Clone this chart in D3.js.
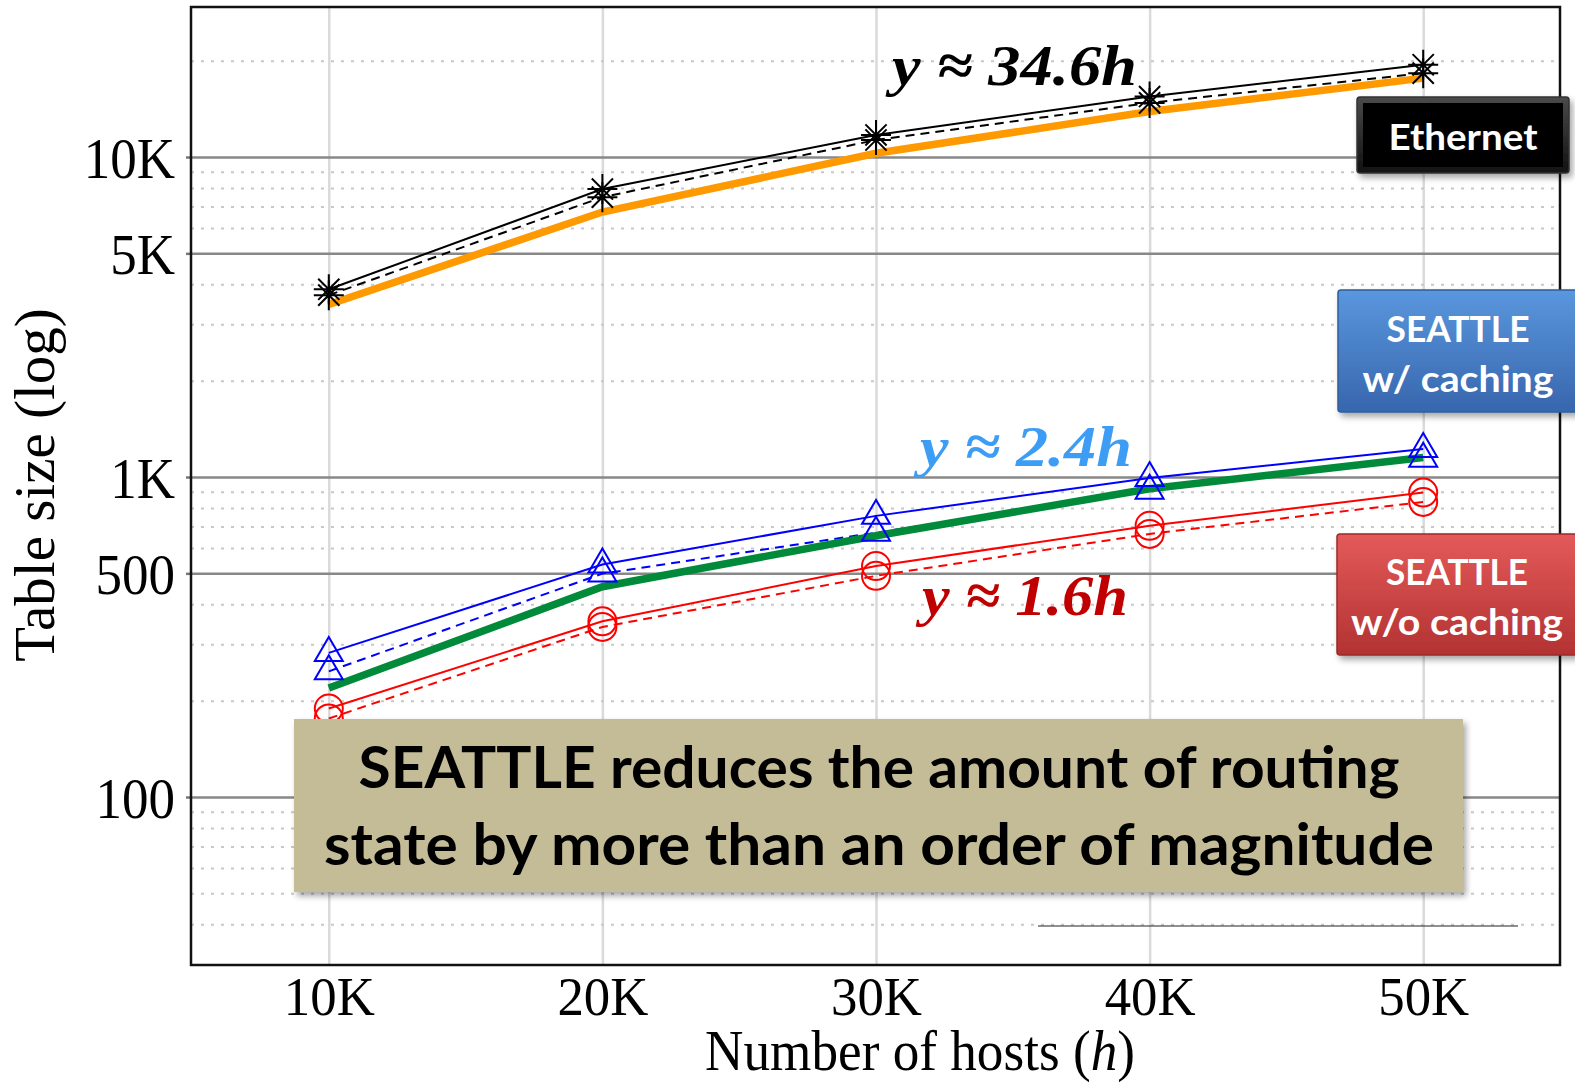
<!DOCTYPE html>
<html>
<head>
<meta charset="utf-8">
<script src="https://cdn.jsdelivr.net/npm/d3@7"></script>
<style>
  body { margin: 0; background: #fff; }
  svg { display: block; }
</style>
</head>
<body>
<div class="chart"></div>
<script>
const width = 1575,
    height = 1083;

// data
const hosts = [10000, 20000, 30000, 40000, 50000];
const xTickLabels = ["10K", "20K", "30K", "40K", "50K"];
const yMajorTicks = [100, 500, 1000, 5000, 10000];
const yTickLabels = ["100", "500", "1K", "5K", "10K"];

const ethernetSolid   = [3860, 7940, 11720, 15450, 19420];
const ethernetDashed  = [3700, 7490, 11300, 14760, 18280];
const ethernetFit     = [3460, 6730, 10270, 13870, 17640];
const cachingSolid    = [282, 533, 756, 992, 1224];
const cachingDashed   = [247, 499, 670, 906, 1141];
const cachingFit      = [219, 454, 655, 919, 1151];
const noCachingSolid  = [189, 354, 527, 704, 894];
const noCachingDashed = [176, 340, 491, 664, 836];

const plot = {left: 191, right: 1560, top: 7, bottom: 965};

const x = d3.scaleLinear().domain([5000, 55000]).range([192, 1560]);
const y = d3.scaleLog().domain([100, 10000]).range([797, 157]);

const serif = "'Liberation Serif', 'Times New Roman', serif";
const sans = "Lato, 'Open Sans', sans-serif";

const svg = d3.select(".chart").append("svg")
    .attr("width", width)
    .attr("height", height);

const defs = svg.append("defs");
const shadow = defs.append("filter").attr("id", "shadow")
    .attr("x", "-10%").attr("y", "-10%").attr("width", "130%").attr("height", "140%");
shadow.append("feDropShadow")
    .attr("dx", 3).attr("dy", 4).attr("stdDeviation", 3)
    .attr("flood-color", "#000").attr("flood-opacity", 0.35);

function gradient(id, top, bottom) {
  const g = defs.append("linearGradient").attr("id", id)
      .attr("x1", 0).attr("y1", 0).attr("x2", 0).attr("y2", 1);
  g.append("stop").attr("offset", "0%").attr("stop-color", top);
  g.append("stop").attr("offset", "100%").attr("stop-color", bottom);
}
gradient("blueGrad", "#5a97de", "#3766ad");
gradient("redGrad", "#e45a5a", "#b33232");
gradient("blackGrad", "#4a4a4a", "#111");

function squeeze(sel, k) {
  sel.each(function() {
    const len = this.getComputedTextLength();
    d3.select(this).attr("textLength", len * k).attr("lengthAdjust", "spacingAndGlyphs");
  });
}
function fitTo(sel, w) {
  sel.attr("textLength", w).attr("lengthAdjust", "spacingAndGlyphs");
}

// vertical grid
const xGrid = svg.append("g")
    .attr("transform", `translate(0,${plot.bottom})`)
    .call(d3.axisBottom(x).tickValues(hosts).tickSize(-(plot.bottom - plot.top)).tickFormat(""));
xGrid.select(".domain").remove();
xGrid.selectAll("line").attr("stroke", "#dadada").attr("stroke-width", 2.5);

// minor horizontal grid (dotted)
const minorTicks = y.copy().domain([y.invert(plot.bottom), y.invert(plot.top)]).ticks()
    .filter(v => !yMajorTicks.includes(v) && y(v) > plot.top + 3 && y(v) < plot.bottom - 3);
const minorGrid = svg.append("g")
    .attr("transform", `translate(${plot.left},0)`)
    .call(d3.axisLeft(y).tickValues(minorTicks).tickSize(-(plot.right - plot.left)).tickFormat(""));
minorGrid.select(".domain").remove();
minorGrid.selectAll("line").attr("stroke", "#c8c8c8").attr("stroke-width", 2)
    .attr("stroke-dasharray", "3,7");

// major horizontal grid
const majorGrid = svg.append("g")
    .attr("transform", `translate(${plot.left},0)`)
    .call(d3.axisLeft(y).tickValues(yMajorTicks).tickSize(-(plot.right - plot.left)).tickFormat(""));
majorGrid.select(".domain").remove();
majorGrid.selectAll("line").attr("stroke", "#888").attr("stroke-width", 2.5);

// y tick labels
const yAxis = svg.append("g")
    .attr("transform", `translate(${plot.left},0)`)
    .call(d3.axisLeft(y).tickValues(yMajorTicks).tickFormat((d, i) => yTickLabels[i])
        .tickSize(5).tickPadding(11));
yAxis.select(".domain").remove();
yAxis.selectAll("line").attr("stroke", "#777").attr("stroke-width", 2.5);
yAxis.selectAll("text")
    .attr("font-family", serif).attr("font-size", 57).attr("fill", "#000")
    .attr("dy", "0.36em")
    .call(squeeze, 0.93);

// x tick labels
const xAxis = svg.append("g")
    .attr("transform", `translate(0,${plot.bottom})`)
    .call(d3.axisBottom(x).tickValues(hosts).tickFormat((d, i) => xTickLabels[i]).tickSize(0));
xAxis.select(".domain").remove();
xAxis.selectAll("text")
    .attr("font-family", serif).attr("font-size", 55).attr("fill", "#000")
    .attr("y", 50).attr("dy", null)
    .call(squeeze, 0.96);

// axis titles
const xTitle = svg.append("text")
    .attr("transform", "translate(920,1070) scale(0.95,1)")
    .attr("text-anchor", "middle")
    .attr("font-family", serif).attr("font-size", 56);
xTitle.append("tspan").text("Number of hosts (");
xTitle.append("tspan").attr("font-style", "italic").text("h");
xTitle.append("tspan").text(")");

svg.append("text")
    .attr("transform", "translate(54,485) rotate(-90)")
    .attr("text-anchor", "middle")
    .attr("font-family", serif).attr("font-size", 57)
    .text("Table size (log)");

// frame
svg.append("rect")
    .attr("x", plot.left).attr("y", plot.top)
    .attr("width", plot.right - plot.left).attr("height", plot.bottom - plot.top)
    .attr("fill", "none").attr("stroke", "#111").attr("stroke-width", 2.5);

// leftover rule under the callout
svg.append("line")
    .attr("x1", 1038).attr("x2", 1518).attr("y1", 926).attr("y2", 926)
    .attr("stroke", "#222").attr("stroke-width", 1.2);

// series
const line = d3.line()
    .x((d, i) => x(hosts[i]))
    .y(d => y(d));

const thinSeries = [
  {values: ethernetSolid,   color: "#000",    dash: null,  marker: "star"},
  {values: ethernetDashed,  color: "#000",    dash: "9,6", marker: "star"},
  {values: cachingSolid,    color: "#0000ff", dash: null,  marker: "triangle"},
  {values: cachingDashed,   color: "#0000ff", dash: "9,6", marker: "triangle"},
  {values: noCachingSolid,  color: "#ff0000", dash: null,  marker: "circle"},
  {values: noCachingDashed, color: "#ff0000", dash: "9,6", marker: "circle"}
];
const fitSeries = [
  {values: ethernetFit, color: "#ff9900"},
  {values: cachingFit,  color: "#008a3a"}
];

svg.append("g").selectAll("path")
    .data(thinSeries)
    .enter().append("path")
    .attr("d", d => line(d.values))
    .attr("fill", "none")
    .attr("stroke", d => d.color)
    .attr("stroke-width", 2)
    .attr("stroke-dasharray", d => d.dash);

svg.append("g").selectAll("path")
    .data(fitSeries)
    .enter().append("path")
    .attr("d", d => line(d.values))
    .attr("fill", "none")
    .attr("stroke", d => d.color)
    .attr("stroke-width", 7.5);

const r = 15, a = r * 0.707;
const shapes = {
  star: `M0,${-r}L0,${r}M${-r},0L${r},0M${-a},${-a}L${a},${a}M${-a},${a}L${a},${-a}`,
  triangle: "M0,-16L14,8L-14,8Z",
  circle: d3.arc()({innerRadius: 0, outerRadius: 14, startAngle: 0, endAngle: 2 * Math.PI})
};

const markerGroups = svg.append("g").selectAll("g")
    .data(thinSeries)
    .enter().append("g")
    .attr("stroke", d => d.color)
    .attr("stroke-width", d => d.marker === "star" ? 2 : 2)
    .attr("fill", "none");
markerGroups.selectAll("path")
    .data(d => d.values.map((v, i) => ({v, i, marker: d.marker})))
    .enter().append("path")
    .attr("transform", d => `translate(${x(hosts[d.i])},${y(d.v)})`)
    .attr("d", d => shapes[d.marker]);

// fit annotations
const fitLabels = [
  {text: "y \u2248 34.6h", x: 892, y: 85,  w: 245, color: "#000"},
  {text: "y \u2248 2.4h",  x: 920, y: 466, w: 212, color: "#3d9df5"},
  {text: "y \u2248 1.6h",  x: 922, y: 615, w: 206, color: "#c00000"}
];
svg.append("g").selectAll("text")
    .data(fitLabels)
    .enter().append("text")
    .attr("x", d => d.x).attr("y", d => d.y)
    .attr("font-family", serif).attr("font-size", 58)
    .attr("font-weight", "bold").attr("font-style", "italic")
    .attr("fill", d => d.color)
    .attr("textLength", d => d.w).attr("lengthAdjust", "spacingAndGlyphs")
    .text(d => d.text);

// callout boxes
const boxes = [
  {x: 1357, y: 97,  w: 212, h: 76,  fill: "url(#blackGrad)", stroke: "#333",
   lines: [{t: "Ethernet", y: 150, w: 149}]},
  {x: 1338, y: 290, w: 240, h: 122, fill: "url(#blueGrad)", stroke: "#2f5d9c",
   lines: [{t: "SEATTLE", y: 342, w: 143}, {t: "w/ caching", y: 392, w: 191}]},
  {x: 1337, y: 534, w: 240, h: 121, fill: "url(#redGrad)", stroke: "#9c2a2a",
   lines: [{t: "SEATTLE", y: 585, w: 142}, {t: "w/o caching", y: 635, w: 212}]}
];
const boxG = svg.append("g").selectAll("g")
    .data(boxes)
    .enter().append("g");
boxG.append("rect")
    .attr("x", d => d.x).attr("y", d => d.y)
    .attr("width", d => d.w).attr("height", d => d.h)
    .attr("rx", 3)
    .attr("fill", d => d.fill)
    .attr("stroke", d => d.stroke).attr("stroke-width", 1.5)
    .attr("filter", "url(#shadow)");
boxG.filter((d, i) => i === 0).append("rect")
    .attr("x", d => d.x + 6).attr("y", d => d.y + 6)
    .attr("width", d => d.w - 12).attr("height", d => d.h - 12)
    .attr("fill", "#000");
boxG.selectAll("text")
    .data(d => d.lines.map(l => ({...l, cx: d.x + (d.w > 220 ? 120 : 106)})))
    .enter().append("text")
    .attr("x", d => d.cx).attr("y", d => d.y)
    .attr("text-anchor", "middle")
    .attr("font-family", sans).attr("font-weight", "bold").attr("font-size", 37)
    .attr("fill", "#fff")
    .text(d => d.t)
    .each(function(d) { fitTo(d3.select(this), d.w); });

// main message
const message = ["SEATTLE reduces the amount of routing",
                 "state by more than an order of magnitude"];
const msgG = svg.append("g");
msgG.append("rect")
    .attr("x", 294).attr("y", 719).attr("width", 1169).attr("height", 173)
    .attr("fill", "#c4bc97")
    .attr("filter", "url(#shadow)");
msgG.selectAll("text")
    .data(message)
    .enter().append("text")
    .attr("x", 879)
    .attr("y", (d, i) => i === 0 ? 788 : 865)
    .attr("text-anchor", "middle")
    .attr("font-family", sans).attr("font-weight", "bold").attr("font-size", 57)
    .attr("fill", "#000")
    .attr("textLength", (d, i) => i === 0 ? 1041 : 1110)
    .attr("lengthAdjust", "spacingAndGlyphs")
    .text(d => d);
</script>
</body>
</html>
